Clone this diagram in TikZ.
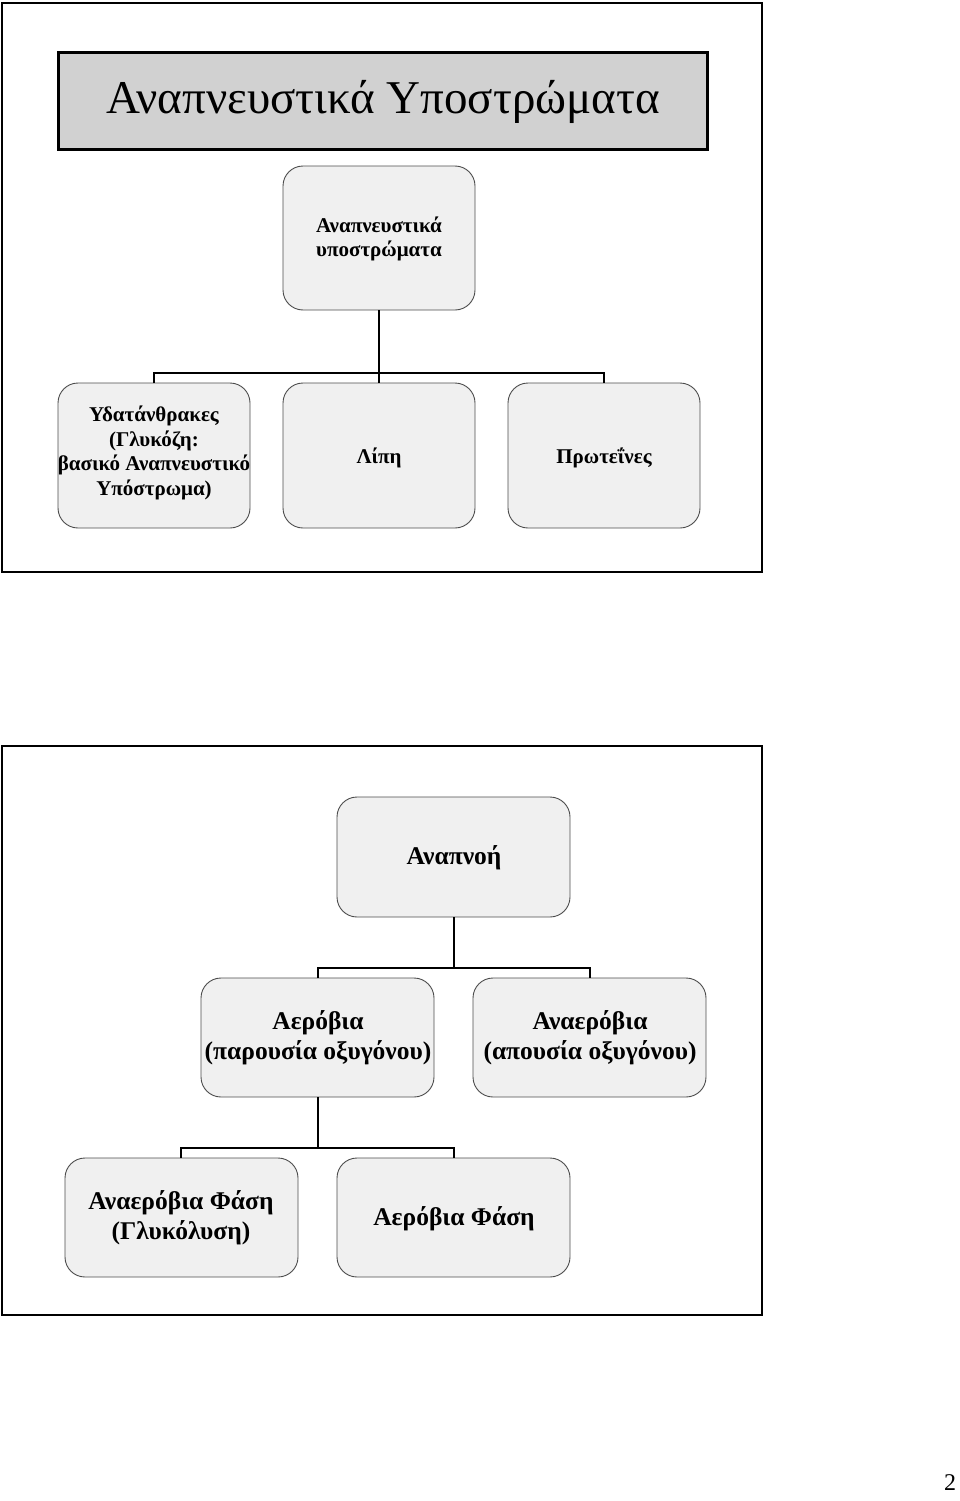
\documentclass[tikz,border=0pt]{standalone}
\usepackage{fontspec}
\setmainfont{Liberation Serif}
\begin{document}
\begin{tikzpicture}[x=1pt,y=-1pt,
  frame/.style={draw=black,line width=2pt},
  rbox/.style={draw=black!70,line width=0.9pt,fill=black!6,rounded corners=20pt},
  conn/.style={draw=black,line width=2.4pt},
  lblA/.style={font=\bfseries\fontsize{21}{24.5}\selectfont,align=center,inner sep=0pt},
  lblB/.style={font=\bfseries\fontsize{25.5}{30}\selectfont,align=center,inner sep=0pt}]
\useasboundingbox (0,0) rectangle (960,1501);
% frame 1
\draw[frame] (2,3) rectangle (762,572);
\draw[draw=black,line width=3pt,fill=black!18] (58,53) rectangle (707,149);
\node[font=\fontsize{47}{52}\selectfont,inner sep=0pt] (title) at (383,102) {Αναπνευστικά Υποστρώματα};
% boxes frame 1
\draw[rbox] (283,166) rectangle (475,310);
\draw[rbox] (58,383) rectangle (250,528);
\draw[rbox] (283,383) rectangle (475,528);
\draw[rbox] (508,383) rectangle (700,528);
\node[lblA] (r1) at (379,239) {Αναπνευστικά\\υποστρώματα};
\node[lblA] (c1) at (154,453) {Υδατάνθρακες\\(Γλυκόζη:\\βασικό Αναπνευστικό\\Υπόστρωμα)};
\node[lblA] (c2) at (379,458) {Λίπη};
\node[lblA] (c3) at (604,458) {Πρωτεΐνες};
\coordinate (r1b) at (379,310);
\coordinate (c1t) at (154,383);
\coordinate (c2t) at (379,383);
\coordinate (c3t) at (604,383);
\draw[conn] (r1b) -- (379,373);
\draw[conn] (c1t) -- (154,373) -- (604,373) -- (c3t);
\draw[conn] (379,373) -- (c2t);
% frame 2
\draw[frame] (2,746) rectangle (762,1315);
\draw[rbox] (337,797) rectangle (570,917);
\draw[rbox] (201,978) rectangle (434,1097);
\draw[rbox] (473,978) rectangle (706,1097);
\draw[rbox] (65,1158) rectangle (298,1277);
\draw[rbox] (337,1158) rectangle (570,1277);
\node[lblB] (a0) at (454,858) {Αναπνοή};
\node[lblB] (a1) at (318,1038) {Αερόβια\\(παρουσία οξυγόνου)};
\node[lblB] (a2) at (590,1038) {Αναερόβια\\(απουσία οξυγόνου)};
\node[lblB] (b1) at (181,1218) {Αναερόβια Φάση\\(Γλυκόλυση)};
\node[lblB] (b2) at (454,1219) {Αερόβια Φάση};
\coordinate (a0b) at (454,917);
\coordinate (a1t) at (318,978);
\coordinate (a2t) at (590,978);
\coordinate (a1b) at (318,1097);
\coordinate (b1t) at (181,1158);
\coordinate (b2t) at (454,1158);
\draw[conn] (a0b) -- (454,968);
\draw[conn] (a1t) -- (318,968) -- (590,968) -- (a2t);
\draw[conn] (a1b) -- (318,1148);
\draw[conn] (b1t) -- (181,1148) -- (454,1148) -- (b2t);
% page number
\node[font=\fontsize{24}{28}\selectfont,inner sep=0pt] (pg) at (950,1483) {2};
\end{tikzpicture}
\end{document}
